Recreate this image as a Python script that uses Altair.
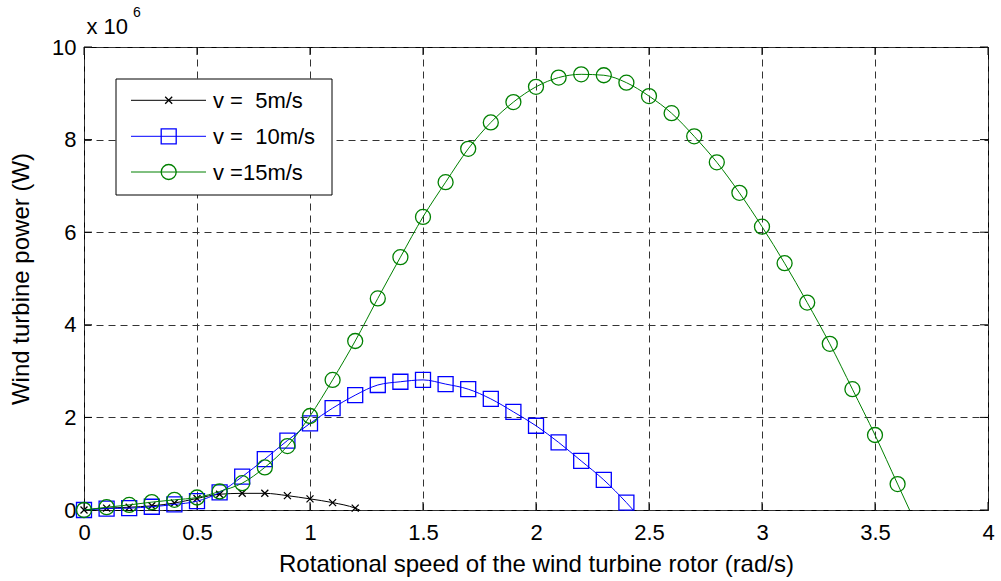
import altair as alt
import pandas as pd

# ---- data (power in units of 10^6 W) ----
speed5 = [0.0, 0.1, 0.2, 0.3, 0.4, 0.5, 0.6, 0.7, 0.8, 0.9, 1.0, 1.1, 1.2]
power5 = [0.0, 0.04, 0.06, 0.09, 0.15, 0.25, 0.34, 0.36, 0.36, 0.31, 0.24, 0.16, 0.04]
end5 = [1.22, 0.0]

speed10 = [0.0, 0.1, 0.2, 0.3, 0.4, 0.5, 0.6, 0.7, 0.8, 0.9, 1.0, 1.1, 1.2,
           1.3, 1.4, 1.5, 1.6, 1.7, 1.8, 1.9, 2.0, 2.1, 2.2, 2.3, 2.4]
power10 = [0.0, 0.03, 0.04, 0.07, 0.12, 0.19, 0.38, 0.72, 1.10, 1.50, 1.87, 2.20, 2.48,
           2.70, 2.77, 2.81, 2.72, 2.61, 2.40, 2.12, 1.82, 1.46, 1.06, 0.65, 0.16]
end10 = [2.43, 0.0]

speed15 = [0.0, 0.1, 0.2, 0.3, 0.4, 0.5, 0.6, 0.7, 0.8, 0.9, 1.0, 1.1, 1.2,
           1.3, 1.4, 1.5, 1.6, 1.7, 1.8, 1.9, 2.0, 2.1, 2.2, 2.3, 2.4, 2.5,
           2.6, 2.7, 2.8, 2.9, 3.0, 3.1, 3.2, 3.3, 3.4, 3.5, 3.6]
power15 = [0.0, 0.06, 0.11, 0.17, 0.22, 0.27, 0.40, 0.58, 0.92, 1.38, 2.03, 2.81, 3.65,
           4.57, 5.46, 6.33, 7.08, 7.80, 8.37, 8.81, 9.14, 9.34, 9.41, 9.39, 9.23, 8.94,
           8.57, 8.07, 7.51, 6.85, 6.12, 5.33, 4.48, 3.59, 2.61, 1.62, 0.56]
end15 = [3.653, 0.0]

NB = "\u00a0"
series_labels = ["v =" + NB + NB + "5m/s", "v =" + NB + NB + "10m/s", "v =15m/s"]
series_colors = ["#000000", "#0000ff", "#008000"]
x_ticks = [0, 0.5, 1, 1.5, 2, 2.5, 3, 3.5, 4]
y_ticks = [0, 2, 4, 6, 8, 10]

W, H = 904, 463
FONT = "Liberation Sans"
X_PATH = "M-1,-1L1,1M-1,1L1,-1"

xs = alt.Scale(domain=[0, 4], nice=False, zero=False)
ys = alt.Scale(domain=[0, 10], nice=False, zero=False)

x_axis = alt.Axis(values=x_ticks, format="~g", grid=True, ticks=False, tickSize=0,
                  domain=False, labelFontSize=22, labelPadding=12, labelFont=FONT,
                  labelColor="#000", title="Rotational speed of the wind turbine rotor (rad/s)",
                  titleFontSize=24, titleFont=FONT, titleFontWeight="normal", titleColor="#000",
                  titleX=W / 2, titleY=61, titleBaseline="alphabetic", titleAlign="center",
                  labelFlush=False)
y_axis = alt.Axis(values=y_ticks, format="d", grid=True, ticks=False, tickSize=0,
                  domain=False, labelFontSize=22, labelPadding=8, labelFont=FONT,
                  labelColor="#000", title="Wind turbine power (W)",
                  titleFontSize=24, titleFont=FONT, titleFontWeight="normal", titleColor="#000",
                  titleAngle=270, titleX=-56, titleY=H / 2, titleBaseline="alphabetic",
                  titleAlign="center", labelFlush=False)


def line_df(sp, pw, end):
    return pd.DataFrame({"speed": sp + [end[0]], "power": pw + [end[1]]})


def pt_df(sp, pw):
    return pd.DataFrame({"speed": sp, "power": pw})


layers = []
specs = [
    (speed5, power5, end5, X_PATH, 49, series_colors[0]),
    (speed10, power10, end10, "square", 225, series_colors[1]),
    (speed15, power15, end15, "circle", 225, series_colors[2]),
]

# tick marks inside the box (MATLAB style)
xt = pd.DataFrame({"t": x_ticks})
yt = pd.DataFrame({"t": y_ticks})
tick_color = "#000"

layers.append(alt.Chart(xt).mark_rule(color=tick_color, strokeWidth=1).encode(
    x=alt.X("t:Q", scale=xs, axis=x_axis), y=alt.value(H), y2=alt.value(H - 8)))
layers.append(alt.Chart(xt).mark_rule(color=tick_color, strokeWidth=1).encode(
    x=alt.X("t:Q", scale=xs), y=alt.value(0), y2=alt.value(8)))
layers.append(alt.Chart(yt).mark_rule(color=tick_color, strokeWidth=1).encode(
    y=alt.Y("t:Q", scale=ys, axis=y_axis), x=alt.value(0), x2=alt.value(8)))
layers.append(alt.Chart(yt).mark_rule(color=tick_color, strokeWidth=1).encode(
    y=alt.Y("t:Q", scale=ys), x=alt.value(W), x2=alt.value(W - 8)))

for sp, pw, end, shape, size, col in specs:
    layers.append(alt.Chart(line_df(sp, pw, end)).mark_line(
        color=col, strokeWidth=1, interpolate="monotone", clip=True).encode(
        x=alt.X("speed:Q", scale=xs), y=alt.Y("power:Q", scale=ys)))
    layers.append(alt.Chart(pt_df(sp, pw)).mark_point(
        shape=shape, size=size, filled=False, color=col, strokeWidth=1.3, opacity=1).encode(
        x=alt.X("speed:Q", scale=xs), y=alt.Y("power:Q", scale=ys)))

# ---- legend (drawn manually, MATLAB style) ----
one = pd.DataFrame({"a": [0]})
layers.append(alt.Chart(one).mark_rect(fill="white", stroke="black", strokeWidth=1).encode(
    x=alt.value(32), x2=alt.value(248), y=alt.value(32), y2=alt.value(148)))
leg_y = [53.3, 89.3, 125.0]
for i, (sp, pw, end, shape, size, col) in enumerate(specs):
    layers.append(alt.Chart(one).mark_rule(color=col, strokeWidth=1).encode(
        x=alt.value(47), x2=alt.value(122), y=alt.value(leg_y[i])))
    layers.append(alt.Chart(one).mark_point(
        shape=shape, size=size, filled=False, color=col, strokeWidth=1.3, opacity=1).encode(
        x=alt.value(84.7), y=alt.value(leg_y[i])))
    layers.append(alt.Chart(one).mark_text(
        text=series_labels[i], font=FONT, fontSize=22, align="left", baseline="middle",
        color="#000").encode(x=alt.value(129), y=alt.value(leg_y[i] + 1)))

# ---- exponent label ----
layers.append(alt.Chart(one).mark_text(
    text="x 10", font=FONT, fontSize=22, align="left", baseline="alphabetic",
    color="#000").encode(x=alt.value(2.5), y=alt.value(-13)))
layers.append(alt.Chart(one).mark_text(
    text="6", font=FONT, fontSize=14, align="left", baseline="alphabetic",
    color="#000").encode(x=alt.value(49), y=alt.value(-30)))

chart = alt.layer(*layers).properties(
    width=W, height=H, autosize="none",
    padding={"left": 84, "top": 47, "right": 13, "bottom": 71},
    background="white",
).configure_view(stroke="black", strokeWidth=1).configure_axis(
    gridColor="#333333", gridDash=[7, 5], gridWidth=1, gridOpacity=1)

chart.save("out.html", embed_options={"renderer": "svg", "actions": False})
